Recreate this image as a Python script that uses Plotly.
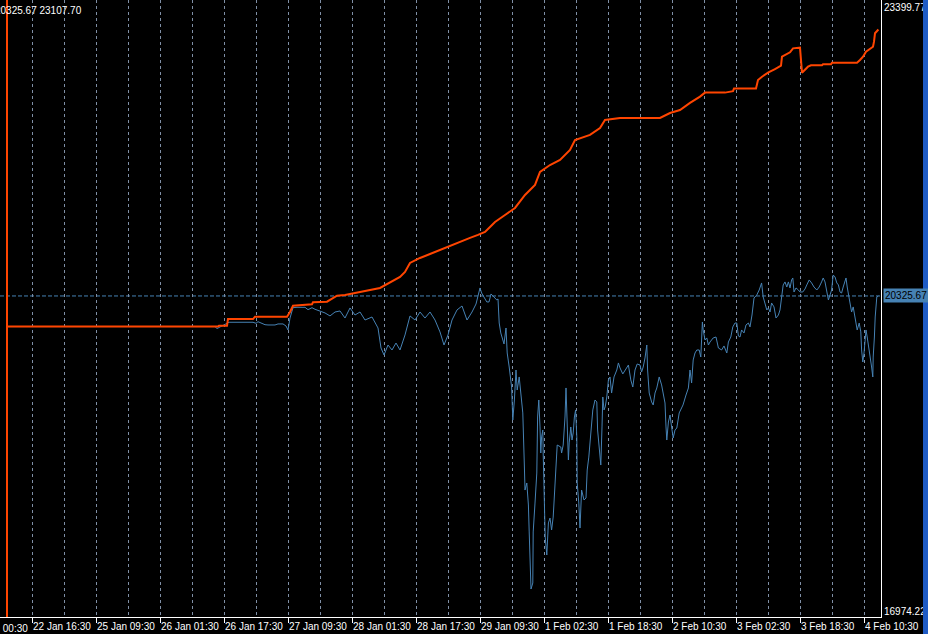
import plotly.graph_objects as go

# ---- data (x = trading-hour bar index, 1 bar = 1 hour) ----
bal_x = [1.75, 54.5, 54.75, 56.75, 57, 63.25, 63.75, 71.75, 72.5, 73.25, 78, 78.25, 81.75, 84.25, 86.25,
         90, 95, 100, 101.25, 102.5, 105, 107.5, 110, 111.75, 113.75, 115.5, 117.5, 119.5, 121.25, 122.5,
         123.75, 126.25, 128.75, 131.25,
         133.75, 135, 137.5, 140, 142.5, 143.75, 147.5, 150, 151.25, 155, 165, 167.5, 170, 172.5, 175,
         176.25, 181.25, 183.25, 183.5, 189, 189.5, 190.5, 192, 193.75, 195.25, 195.5, 196.25, 197.5,
         198.25, 200, 200.5, 201.25, 202, 202.75, 205.5, 205.75, 207.75, 208, 214.25, 215, 215.75, 216.5,
         217.5, 218.25, 218.5, 218.75, 219.6]
bal_y = [20000, 20000, 20009, 20009, 20080, 20080, 20105, 20105, 20155, 20222, 20237, 20258, 20265, 20329, 20336,
         20368, 20411, 20528, 20581, 20677, 20730, 20772, 20815, 20850, 20879, 20915, 20943, 20975, 21007, 21060,
         21113, 21187, 21262, 21400,
         21507, 21645, 21719, 21773, 21879, 21985, 22039, 22113, 22198, 22219, 22219, 22272, 22304, 22379, 22446,
         22489, 22489, 22504, 22532, 22532, 22623, 22658, 22701, 22740, 22775, 22871, 22889, 22918,
         22960, 22967, 22701, 22730, 22765, 22780, 22780, 22790, 22790, 22807, 22807, 22836, 22871, 22924,
         22960, 22977, 23031, 23120, 23160]

eq_x = [1.75, 53.75, 54.25, 55, 55.75, 56.75, 57.25, 63.25, 64, 64.5, 65.5, 66.25, 67, 68.75, 69.5, 70.75,
        71.5, 72, 72.5, 73.25, 74.25, 76.25, 77, 78, 78.75, 80, 81.25, 82.5, 83.75, 85, 86.25, 87.5, 88.75,
        90, 91.25, 93, 94.5, 95.25, 96, 97, 98, 99, 100, 101.25, 102.5, 103.75, 105, 106.25, 107.5, 108.75,
        110, 111, 112, 113, 114.25, 115.5, 116.75, 118, 119, 120, 120.4, 121.7, 122.25, 122.75, 123.5, 124.2,
        124.5, 124.8, 125.2, 126, 126.5, 126.8, 127.3, 127.9, 128.2, 128.6, 129, 129.3, 129.8, 130.4, 130.7,
        131.1, 131.25, 131.7, 132.1, 132.3, 132.5, 132.75, 133.2, 133.3, 133.75, 134.2, 134.4, 134.7, 135,
        135.2, 135.4, 135.7, 135.8, 136.1, 136.3, 136.7, 137.1, 137.5, 137.9, 138.3, 139, 139.3, 140.2, 140.4,
        140.8, 141.25, 141.5, 141.8, 142.1, 142.3, 142.7, 143, 143.3, 143.6, 143.9, 144.2, 144.3, 144.7, 145,
        145.4, 146, 146.5, 146.8, 147.2, 147.7, 148.2, 148.75, 149.2, 149.4, 149.8, 150.2, 150.5, 150.7, 151,
        151.3, 151.7, 152.1, 152.5, 152.9, 153.5, 154.2, 154.6, 155, 155.7, 156.5, 157.1, 157.7, 158.2,
        158.75, 159.3, 160, 160.4, 160.8, 161.25, 161.7, 161.9, 162.3, 162.9, 163.3, 163.75, 164.2, 164.8,
        165.4, 165.8, 166.25, 166.5, 166.7, 167.1, 167.5, 167.9, 168.3, 168.75, 169.2, 169.8, 170.75, 171.5,
        172.1, 172.5, 172.9, 173.3, 173.75, 174.2, 174.8, 175.2, 175.6, 175.8, 176.25, 176.7, 177.1, 177.5,
        178.3, 179, 179.6, 180.4, 181, 181.7, 182.1, 182.7, 183.2, 183.75, 184.2, 184.6, 185, 185.4, 186,
        186.5, 187.1, 187.5, 188, 188.5, 189.2, 189.8, 190.4, 190.8, 191.25, 191.7, 192.1, 192.5, 192.9,
        193.5, 194, 194.6, 195, 195.4, 195.8, 196.25, 196.7, 197.1, 197.5, 197.9, 198.2, 198.5, 199, 199.6,
        200, 200.7, 201.25, 201.7, 202.3, 202.9, 203.5, 204.2, 204.8, 205.4, 205.8, 206.25, 206.7, 207.1,
        207.5, 207.9, 208.3, 208.75, 209.2, 209.6, 210, 210.4, 210.8, 211.25, 211.5, 211.8, 212.2, 212.5,
        212.9, 213.3, 213.6, 214, 214.3, 214.8, 215.2, 215.4, 215.7, 216, 216.25, 216.5, 216.8, 217.2, 217.5,
        217.9, 218.2, 218.3, 218.6, 218.8, 219.2, 219.6]
eq_y = [20000, 20000, 19979, 19996, 20017, 20038, 20046, 20046, 20035, 20052, 20035, 20020, 20017, 20017, 20028, 20028,
        20006, 19964, 20091, 20201, 20205, 20205, 20180, 20201, 20184, 20166, 20145, 20113, 20155, 20166, 20091, 20198, 20123,
        20155, 20070, 20102, 19985, 19772, 19698, 19804, 19751, 19825, 19751, 19911, 20113, 20070, 20155, 20091, 20155, 20070,
        19943, 19804, 19911, 20070, 20177, 20219, 20070, 20155, 20240, 20411, 20357, 20262, 20262, 20347, 20315, 20283,
        20294, 20038, 19932, 19815, 19985, 19719, 19570, 19357, 19006, 19219, 19538, 19325, 19464, 19251, 19081,
        18506, 18261, 18336, 18102, 17815, 17410, 17208, 17272, 17815, 18123, 18442, 19038, 19219, 18932,
        18655, 18826, 18900, 18655, 18261, 17761, 17570, 17911, 17963, 17836, 17974, 18581, 18740, 18719, 18655,
        18740, 19038, 19347, 19038, 18581, 18762, 18932, 18793, 18868, 19038, 19113, 18826, 18336, 18123, 17857,
        18261, 18155, 18176, 18474, 18612, 18826, 19113, 19219, 19198, 18900, 18687, 18527, 18932, 19251, 19113,
        19145, 19251, 19432, 19464, 19293, 19464, 19538, 19613, 19560, 19496, 19560, 19591, 19432, 19357,
        19538, 19602, 19591, 19517, 19570, 19666, 19804, 19538, 19293, 19198, 19166, 19293, 19347, 19464,
        19379, 19272, 19187, 18932, 18793, 18985, 19059, 18932, 18815, 18900, 18921, 19081, 19166, 19272,
        19347, 19538, 19400, 19645, 19719, 19751, 19751, 19676, 20049, 19964, 19857, 19879, 19804, 19836,
        19879, 19889, 19772, 19751, 19794, 19719, 19836, 19889, 19996, 20038, 20038, 19900, 19889, 19964, 19932,
        20017, 20038, 19996, 20123, 20304, 20336, 20389, 20464, 20315, 20251, 20177, 20198, 20155, 20251,
        20209, 20091, 20123, 20177, 20336, 20443, 20475, 20421, 20475, 20411, 20496, 20517, 20368, 20411, 20389,
        20368, 20368, 20400, 20443, 20496, 20464, 20421, 20389, 20421, 20475, 20517, 20475, 20357, 20283,
        20336, 20389, 20549, 20528, 20464, 20443, 20368, 20357, 20421, 20496, 20517, 20421, 20315, 20251,
        20155, 20209, 20145, 20038, 19964, 20038, 19943, 19751, 19623, 19719, 19825, 19964, 19889, 19783, 19719,
        19570, 19464, 19676, 19889, 20102, 20315, 20325.67]

tick_bars = [8, 24, 40, 56, 72, 88, 104, 120, 136, 152, 168, 184, 200, 216]
tick_labels = ["22 Jan 16:30", "25 Jan 09:30", "26 Jan 01:30", "26 Jan 17:30", "27 Jan 09:30",
               "28 Jan 01:30", "28 Jan 17:30", "29 Jan 09:30", "1 Feb 02:30", "1 Feb 18:30",
               "2 Feb 10:30", "3 Feb 02:30", "3 Feb 18:30", "4 Feb 10:30"]
cut_label = "22 Jan 00:30"
price_ticks = [16974.22, 23399.77]
header_text = "20325.67 23107.70"

# ---- style ----
FONT = "Liberation Sans"
GRID = "#7f8fa6"
EQ = "#4682B4"
BAL = "#FF4500"

fig = go.Figure()
fig.add_trace(go.Scatter(x=eq_x, y=eq_y, mode="lines", line=dict(color=EQ, width=1),
                         name="Equity", hoverinfo="skip"))
fig.add_trace(go.Scatter(x=bal_x, y=bal_y, mode="lines", line=dict(color=BAL, width=2),
                         name="Balance", hoverinfo="skip"))

last_eq = eq_y[-1]

fig.update_layout(
    width=928, height=634,
    margin=dict(l=0, r=47, t=0, b=17),
    paper_bgcolor="black", plot_bgcolor="black",
    showlegend=False,
    font=dict(family=FONT, size=10, color="white"),
    xaxis=dict(
        range=[0, 220.25], automargin=False,
        tickmode="array", tickvals=tick_bars, ticktext=tick_labels,
        ticks="outside", ticklen=5, tickcolor="white", tickwidth=1,
        ticklabelposition="outside right", tickangle=0,
        showline=True, linecolor="white", linewidth=1,
        showgrid=True, gridcolor=GRID, griddash="3px,3px", gridwidth=1,
        minor=dict(tickmode="linear", tick0=0, dtick=8, showgrid=True, gridcolor=GRID,
                   griddash="3px,3px", gridwidth=1, ticks=""),
        zeroline=False, fixedrange=True,
        tickfont=dict(family=FONT, size=10, color="white"),
    ),
    yaxis=dict(
        range=[16910.4, 23474.2], side="right", automargin=False,
        tickmode="array", tickvals=price_ticks, ticktext=[f"{v:.2f}" for v in price_ticks],
        ticks="", showgrid=False, zeroline=False,
        showline=True, linecolor="white", linewidth=1,
        tickfont=dict(family=FONT, size=10, color="white"),
        fixedrange=True,
    ),
)

# last equity dashed level line
fig.add_shape(type="line", xref="paper", yref="y", x0=0, x1=1, y0=last_eq, y1=last_eq,
              line=dict(color=EQ, width=1, dash="4px,2px"), layer="between")
# test start vertical marker
fig.add_shape(type="line", xref="x", yref="paper", x0=bal_x[0], x1=bal_x[0], y0=0, y1=1,
              line=dict(color=BAL, width=2), layer="above")
# window edge strip
fig.add_shape(type="rect", xref="paper", yref="paper", x0=923 / 881, x1=928 / 881,
              y0=-17 / 617, y1=1, line=dict(width=0), fillcolor="#1f5bc4", layer="above")

fig.add_annotation(xref="paper", yref="y", x=1, y=last_eq, xanchor="left", yanchor="middle",
                   xshift=2, text=f"{last_eq:.2f}", showarrow=False, bgcolor=EQ,
                   font=dict(family=FONT, size=10, color="black"), borderpad=1)
fig.add_annotation(xref="paper", yref="paper", x=0, y=1, xanchor="left", yanchor="top",
                   xshift=-7, yshift=-3, text=header_text, showarrow=False,
                   font=dict(family=FONT, size=10, color="white"))
fig.add_annotation(xref="paper", yref="paper", x=0, y=0, xanchor="left", yanchor="top",
                   xshift=-32, yshift=-4, text=cut_label, showarrow=False,
                   font=dict(family=FONT, size=10, color="white"))

fig.write_html("out.html", config={"displayModeBar": False},
               post_script="document.body.style.margin='0';document.body.style.overflow='hidden';")
